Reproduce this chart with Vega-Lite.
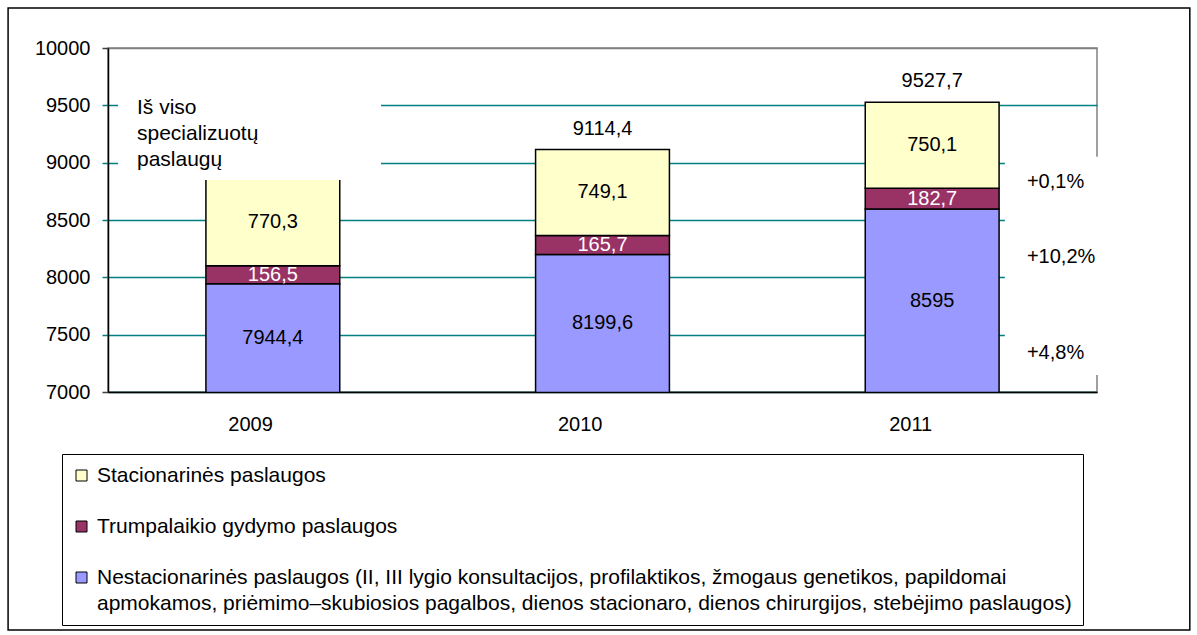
{
  "$schema": "https://vega.github.io/schema/vega-lite/v6.json",
  "autosize": {"type": "none"},
  "width": 989,
  "height": 344,
  "padding": {"left": 108, "top": 48, "right": 100, "bottom": 243},
  "background": "white",
  "config": {
    "font": "Liberation Sans",
    "locale": {"number": {"decimal": ",", "thousands": "", "grouping": [3], "currency": ["", ""]}},
    "view": {"stroke": "#808080", "strokeWidth": 1.5},
    "text": {"fontSize": 20, "color": "black"}
  },
  "layer": [
    {
      "data": {"values": [{}]},
      "mark": {"type": "rect", "fill": "transparent", "stroke": "black", "strokeWidth": 1.5},
      "encoding": {
        "x": {"datum": "2009", "type": "nominal", "bandPosition": -1.478, "title": null},
        "x2": {"datum": "2011", "bandPosition": 2.425},
        "y": {"datum": 10349, "type": "quantitative", "title": null},
        "y2": {"datum": 4924}
      }
    },
    {
      "data": {"values": [
        {"year": "2009", "category": "Nestacionarinės paslaugos", "value": 7944.4},
        {"year": "2009", "category": "Trumpalaikio gydymo paslaugos", "value": 156.5},
        {"year": "2009", "category": "Stacionarinės paslaugos", "value": 770.3},
        {"year": "2010", "category": "Nestacionarinės paslaugos", "value": 8199.6},
        {"year": "2010", "category": "Trumpalaikio gydymo paslaugos", "value": 165.7},
        {"year": "2010", "category": "Stacionarinės paslaugos", "value": 749.1},
        {"year": "2011", "category": "Nestacionarinės paslaugos", "value": 8595},
        {"year": "2011", "category": "Trumpalaikio gydymo paslaugos", "value": 182.7},
        {"year": "2011", "category": "Stacionarinės paslaugos", "value": 750.1}
      ]},
      "transform": [
        {"calculate": "indexof(['Nestacionarinės paslaugos','Trumpalaikio gydymo paslaugos','Stacionarinės paslaugos'], datum.category)", "as": "stackRank"},
        {"stack": "value", "groupby": ["year"], "sort": [{"field": "stackRank", "order": "ascending"}], "as": ["v0", "v1"]},
        {"calculate": "(max(datum.v0, 7000) + datum.v1) / 2", "as": "vmid"}
      ],
      "layer": [
        {
          "mark": {"type": "bar", "stroke": "black", "strokeWidth": 1.5, "clip": true},
          "encoding": {
            "x": {
              "field": "year", "type": "nominal", "title": null,
              "scale": {"paddingInner": 0.594, "paddingOuter": 0.297},
              "axis": {"labelAngle": 0, "ticks": false, "labelPadding": 32, "labelFontSize": 20, "labelColor": "black", "domainColor": "black", "domainWidth": 1.5, "grid": false, "title": null}
            },
            "y": {
              "field": "v1", "type": "quantitative", "title": null,
              "scale": {"domain": [7000, 10000], "nice": false, "zero": false},
              "axis": {
                "values": [7000, 7500, 8000, 8500, 9000, 9500, 10000],
                "format": "d",
                "labelFontSize": 20, "labelColor": "black", "labelPadding": 12,
                "tickSize": 6, "tickWidth": 1.5,
                "tickColor": {"condition": {"test": "datum.value == 10000 || datum.value == 7000", "value": "#404040"}, "value": "#008080"},
                "grid": true,
                "gridColor": {"condition": {"test": "datum.value == 10000", "value": "#808080"}, "value": "#008080"},
                "gridWidth": 1.5,
                "domainColor": "black", "domainWidth": 1.5, "title": null
              }
            },
            "y2": {"field": "v0"},
            "color": {
              "field": "category", "type": "nominal",
              "scale": {
                "domain": ["Stacionarinės paslaugos", "Trumpalaikio gydymo paslaugos", "Nestacionarinės paslaugos"],
                "range": ["#FFFFCC", "#993366", "#9999FF"]
              },
              "legend": {
                "orient": "none", "legendX": -46, "legendY": 406,
                "direction": "vertical", "title": null,
                "symbolType": "square", "symbolSize": 121, "symbolOffset": -2,
                "symbolStrokeColor": "black", "symbolStrokeWidth": 1,
                "labelFontSize": 21, "labelColor": "black", "labelOffset": 5, "labelLimit": 0,
                "rowPadding": 29, "padding": 11,
                "strokeColor": "black", "fillColor": "white",
                "labelExpr": "datum.label == 'Nestacionarinės paslaugos' ? ['Nestacionarinės paslaugos (II, III lygio konsultacijos, profilaktikos, žmogaus genetikos, papildomai', 'apmokamos, priėmimo–skubiosios pagalbos, dienos stacionaro, dienos chirurgijos, stebėjimo paslaugos)'] : datum.label",
                "encode": {"labels": {"update": {"lineHeight": {"value": 26}}}}
              }
            }
          }
        },
        {
          "mark": {"type": "text", "fontSize": 20, "baseline": "middle"},
          "encoding": {
            "x": {"field": "year", "type": "nominal", "title": null},
            "y": {"field": "vmid", "type": "quantitative", "title": null},
            "text": {"field": "value", "type": "quantitative", "format": ".1~f"},
            "color": {"condition": {"test": "datum.category == 'Trumpalaikio gydymo paslaugos'", "value": "white"}, "value": "black"}
          }
        }
      ]
    },
    {
      "data": {"values": [{}]},
      "mark": {"type": "rect", "fill": "white", "strokeWidth": 0},
      "encoding": {
        "x": {"datum": "2009", "type": "nominal", "bandPosition": -0.656, "title": null},
        "x2": {"datum": "2009", "bandPosition": 1.308},
        "y": {"datum": 9700, "type": "quantitative", "title": null},
        "y2": {"datum": 8849}
      }
    },
    {
      "data": {"values": [{}]},
      "mark": {"type": "rect", "fill": "white", "strokeWidth": 0},
      "encoding": {
        "x": {"datum": "2011", "type": "nominal", "bandPosition": 1.043, "title": null},
        "x2": {"datum": "2011", "bandPosition": 1.803},
        "y": {"datum": 9052, "type": "quantitative", "title": null},
        "y2": {"datum": 7148}
      }
    },
    {
      "data": {"values": [
        {"year": "2010", "total": 9114.4},
        {"year": "2011", "total": 9527.7}
      ]},
      "mark": {"type": "text", "fontSize": 20, "baseline": "middle", "dy": -21},
      "encoding": {
        "x": {"field": "year", "type": "nominal", "title": null},
        "y": {"field": "total", "type": "quantitative", "title": null},
        "text": {"field": "total", "type": "quantitative", "format": ".1~f"}
      }
    },
    {
      "data": {"values": [{}]},
      "mark": {"type": "text", "fontSize": 21, "align": "left", "baseline": "top", "lineHeight": 26},
      "encoding": {
        "x": {"datum": "2009", "type": "nominal", "bandPosition": -0.515, "title": null},
        "y": {"datum": 9573, "type": "quantitative", "title": null},
        "text": {"value": ["Iš viso", "specializuotų", "paslaugų"]}
      }
    },
    {
      "data": {"values": [{}]},
      "mark": {"type": "text", "fontSize": 20, "align": "left", "baseline": "middle"},
      "encoding": {
        "x": {"datum": "2011", "type": "nominal", "bandPosition": 1.208, "title": null},
        "y": {"datum": 8834, "type": "quantitative", "title": null},
        "text": {"value": "+0,1%"}
      }
    },
    {
      "data": {"values": [{}]},
      "mark": {"type": "text", "fontSize": 20, "align": "left", "baseline": "middle"},
      "encoding": {
        "x": {"datum": "2011", "type": "nominal", "bandPosition": 1.208, "title": null},
        "y": {"datum": 8180, "type": "quantitative", "title": null},
        "text": {"value": "+10,2%"}
      }
    },
    {
      "data": {"values": [{}]},
      "mark": {"type": "text", "fontSize": 20, "align": "left", "baseline": "middle"},
      "encoding": {
        "x": {"datum": "2011", "type": "nominal", "bandPosition": 1.208, "title": null},
        "y": {"datum": 7340, "type": "quantitative", "title": null},
        "text": {"value": "+4,8%"}
      }
    }
  ]
}
